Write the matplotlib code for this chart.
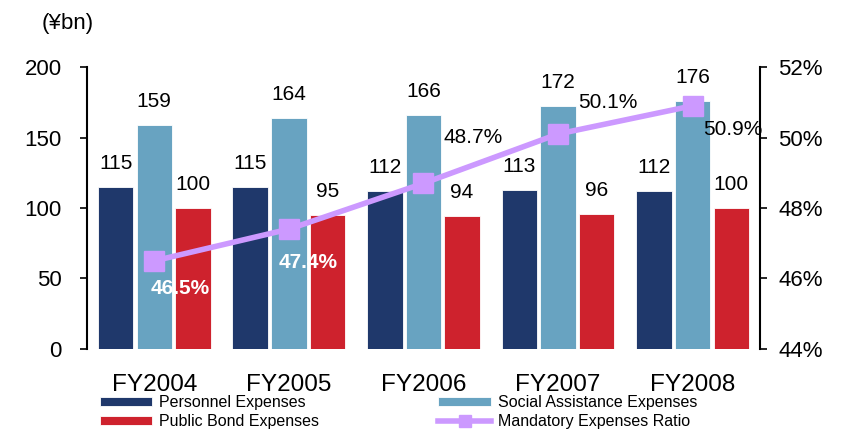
import numpy as np
import matplotlib.pyplot as plt
from matplotlib.ticker import FuncFormatter

# ---------------------------------------------------------
# Data (¥bn, ratio in %)
# ---------------------------------------------------------
years = ["FY2004", "FY2005", "FY2006", "FY2007", "FY2008"]
personnel = [115, 115, 112, 113, 112]
social = [159, 164, 166, 172, 176]
public_bond = [100, 95, 94, 96, 100]
mandatory_ratio = [46.5, 47.4, 48.7, 50.1, 50.9]

c_personnel = "#1F386B"
c_social = "#68A3C1"
c_bond = "#CE222D"
c_ratio = "#CC99FF"

plt.rcParams["font.family"] = ["Liberation Sans", "DejaVu Sans"]

fig = plt.figure(figsize=(8.42, 4.34), dpi=100)
ax = fig.add_axes([0.1033, 0.1959, 0.7993, 0.6497])
ax2 = ax.twinx()

x = np.arange(len(years))
step = 0.287
w = 0.264

b1 = ax.bar(x - step, personnel, w, color=c_personnel, edgecolor="white", linewidth=0.6,
            label="Personnel Expenses")
b2 = ax.bar(x, social, w, color=c_social, edgecolor="white", linewidth=0.6,
            label="Social Assistance Expenses")
b3 = ax.bar(x + step, public_bond, w, color=c_bond, edgecolor="white", linewidth=0.6,
            label="Public Bond Expenses")

for bars in (b1, b2, b3):
    for r in bars:
        ax.annotate(f"{r.get_height():.0f}", (r.get_x() + r.get_width() / 2, r.get_height()),
                    xytext=(0, 17), textcoords="offset points", ha="center", va="center",
                    fontsize=15)

ax.set_xlim(-0.5, len(years) - 0.5)
ax.set_ylim(0, 200)
ax.set_yticks([0, 50, 100, 150, 200])
ax.set_xticks(x)
ax.set_xticklabels(years, fontsize=17.5)
ax.tick_params(axis="x", length=0, pad=18)
ax.tick_params(axis="y", labelsize=16, length=5, width=1.2, direction="out", pad=13)
for s in ("top", "right", "bottom"):
    ax.spines[s].set_visible(False)
ax.spines["left"].set_linewidth(1.5)

# ratio line on the secondary axis
ln, = ax2.plot(x, mandatory_ratio, color=c_ratio, lw=4, marker="s", markersize=14,
               label="Mandatory Expenses Ratio")
ax2.set_ylim(44, 52)
ax2.set_yticks([44, 46, 48, 50, 52])
ax2.yaxis.set_major_formatter(FuncFormatter(lambda v, p: f"{v:.0f}%"))
ax2.tick_params(axis="y", labelsize=16, length=5, width=1.2, direction="out", pad=8)
for s in ("top", "left", "bottom"):
    ax2.spines[s].set_visible(False)
ax2.spines["right"].set_linewidth(1.5)

# ratio labels: (dx, dy) in points, colour, weight
lbl_style = [
    (19, -20, "white", "bold"),
    (14, -24, "white", "bold"),
    (36, 33, "black", "normal"),
    (36, 23, "black", "normal"),
    (29, -17, "black", "normal"),
]
for xi, v, (dx, dy, col, wt) in zip(x, mandatory_ratio, lbl_style):
    ax2.annotate(f"{v:.1f}%", (xi, v), xytext=(dx, dy), textcoords="offset points",
                 ha="center", va="center", fontsize=15, color=col, fontweight=wt)

fig.text(0.05, 0.945, "(¥bn)", fontsize=16, ha="left", va="center")

handles = [b1, b3, b2, ln]
labels = [h.get_label() for h in handles]
fig.legend(handles, labels, ncol=2, loc="lower left", bbox_to_anchor=(0.105, -0.015),
           frameon=False, fontsize=11.5, handlelength=3.3, handleheight=0.5,
           labelspacing=0.25, columnspacing=7.5, handletextpad=0.4, borderpad=0.2,
           markerscale=0.6)

plt.savefig("out.png", dpi=100)
